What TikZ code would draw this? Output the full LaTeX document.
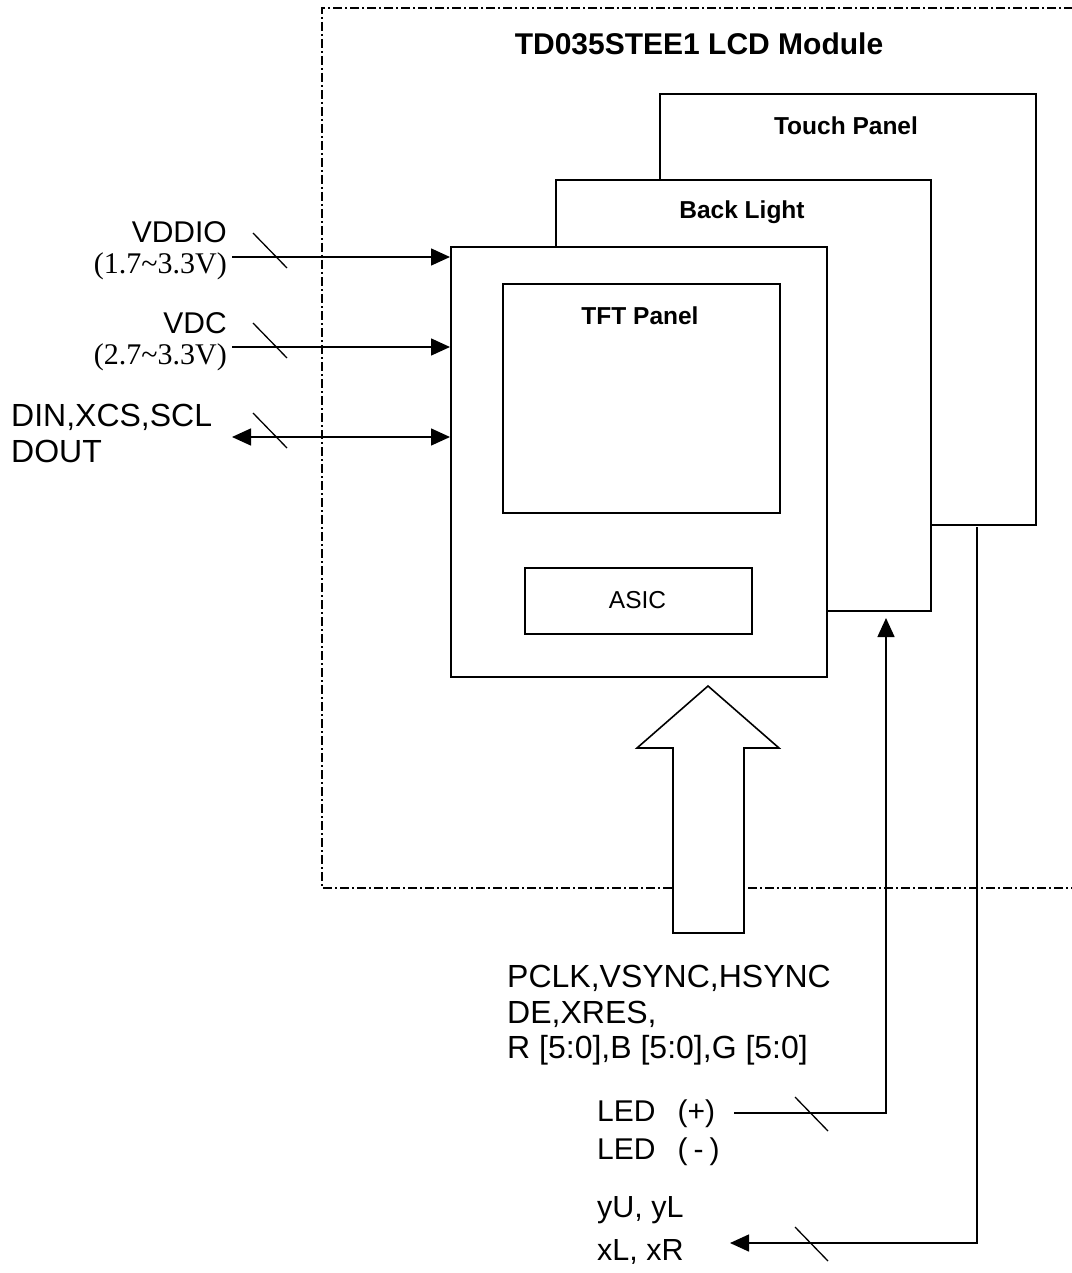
\documentclass[tikz,border=0pt]{standalone}
\usepackage{fontspec}
\setmainfont{Liberation Serif}
\setsansfont{Liberation Sans}
\usetikzlibrary{arrows.meta}
\begin{document}
\begin{tikzpicture}[x=1pt,y=-1pt,
  box/.style={draw,line width=1.6pt,fill=white,rectangle,inner sep=0pt,anchor=north west},
  lbl/.style={font=\sffamily\fontsize{30}{36}\selectfont,inner sep=0pt},
  biglbl/.style={font=\sffamily\fontsize{32}{38}\selectfont,inner sep=0pt},
  volt/.style={font=\rmfamily\fontsize{30}{36}\selectfont,inner sep=0pt,anchor=east},
  title/.style={font=\sffamily\bfseries\fontsize{24.5}{30}\selectfont,inner sep=0pt},
  wire/.style={line width=1.5pt},
  tick/.style={line width=1.3pt},
  tip/.style={-{Triangle[length=19pt,width=17pt]}},
  frame/.style={line width=1.3pt,dash pattern=on 9pt off 3pt on 2pt off 3pt}
]
\useasboundingbox (0,0) rectangle (1071,1273);

% dashed module frame
\coordinate (fTR) at (1090,8);
\coordinate (fTL) at (322,8);
\coordinate (fBL) at (322,888);
\coordinate (fBR) at (1090,888);
\draw[frame] (fTR) -- (fTL) -- (fBL) -- (fBR);
\node[font=\sffamily\bfseries\fontsize{30}{36}\selectfont,inner sep=0pt] (mtitle) at (699,44) {TD035STEE1 LCD Module};

% stacked panels
\node[box,minimum width=376pt,minimum height=431pt] (touch) at (659,93) {};
\node[title] (touchlbl) at (846,126) {Touch Panel};
\node[box,minimum width=375pt,minimum height=431pt] (back) at (555,179) {};
\node[title] (backlbl) at (742,212) {Back Light};
\node[box,minimum width=376pt,minimum height=430pt] (tft) at (450,246) {};
\node[box,minimum width=277pt,minimum height=229pt] (panel) at (502,283) {};
\node[title] (panellbl) at (640,316) {TFT Panel};
\node[box,minimum width=227pt,minimum height=66pt] (asic) at (524,567) {};
\node[font=\sffamily\fontsize{24.5}{30}\selectfont,inner sep=0pt] (asiclbl) at (637.5,600) {ASIC};

% left inputs
\node[lbl,anchor=east] (vddio) at (227,232) {VDDIO};
\node[volt] (vddiov) at (227,266) {(1.7\char"7E 3.3V)};
\node[lbl,anchor=east] (vdc) at (227,323) {VDC};
\node[volt] (vdcv) at (227,357) {(2.7\char"7E 3.3V)};
\node[biglbl,anchor=west] (din) at (11,417) {DIN,XCS,SCL};
\node[biglbl,anchor=west] (dout) at (11,451) {DOUT};

\coordinate (i1) at (232,257);
\coordinate (i2) at (232,347);
\coordinate (i3) at (232,437);
\draw[wire,tip] (i1) -- (i1 -| tft.west);
\draw[wire,tip] (i2) -- (i2 -| tft.west);
\draw[wire,{Triangle[length=19pt,width=17pt]}-{Triangle[length=19pt,width=17pt]}] (i3) -- (i3 -| tft.west);
\coordinate (s1a) at (253,233); \coordinate (s1b) at (287,268);
\coordinate (s2a) at (253,323); \coordinate (s2b) at (287,358);
\coordinate (s3a) at (253,413); \coordinate (s3b) at (287,448);
\draw[tick] (s1a) -- (s1b);
\draw[tick] (s2a) -- (s2b);
\draw[tick] (s3a) -- (s3b);

% big bus arrow
\coordinate (b1) at (673,933);
\coordinate (b2) at (673,748);
\coordinate (b3) at (637,748);
\coordinate (b4) at (708,686);
\coordinate (b5) at (779,748);
\coordinate (b6) at (744,748);
\coordinate (b7) at (744,933);
\draw[line width=1.6pt,fill=white,line join=miter] (b1) -- (b2) -- (b3) -- (b4) -- (b5) -- (b6) -- (b7) -- cycle;

% bottom bus labels
\node[biglbl,anchor=west] (bus1) at (507,978) {PCLK,VSYNC,HSYNC};
\node[biglbl,anchor=west] (bus2) at (507,1014) {DE,XRES,};
\node[biglbl,anchor=west] (bus3) at (507,1050) {R [5:0],B [5:0],G [5:0]};

% LED
\node[lbl,anchor=west] (ledp) at (597,1114) {LED\hspace{22pt}(+)};
\node[lbl,anchor=west] (ledm) at (597,1152) {LED\hspace{22pt}(\hspace{6pt}-\hspace{6pt})};
\coordinate (l1) at (734,1113);
\coordinate (l2) at (886,1113);
\coordinate (l3) at (886,618);
\draw[wire,tip] (l1) -- (l2) -- (l3);
\coordinate (s4a) at (795,1097); \coordinate (s4b) at (828,1131);
\draw[tick] (s4a) -- (s4b);

% touch signals
\node[lbl,anchor=west,font=\sffamily\fontsize{30.5}{36}\selectfont] (yu) at (597,1210) {yU, yL};
\node[lbl,anchor=west,font=\sffamily\fontsize{30.5}{36}\selectfont] (xl) at (597,1252) {xL, xR};
\coordinate (t1) at (977,527);
\coordinate (t2) at (977,1243);
\coordinate (t3) at (730,1243);
\draw[wire,tip] (t1) -- (t2) -- (t3);
\coordinate (s5a) at (795,1227); \coordinate (s5b) at (828,1261);
\draw[tick] (s5a) -- (s5b);
\end{tikzpicture}
\end{document}
